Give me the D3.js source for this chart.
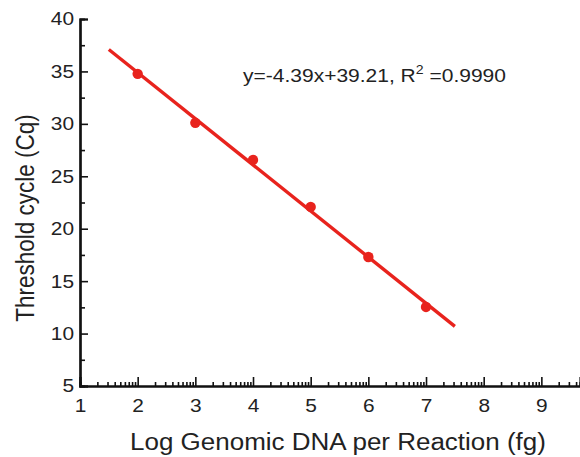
<!DOCTYPE html>
<html><head><meta charset="utf-8">
<script src="https://cdn.jsdelivr.net/npm/d3@7"></script>
<style>body{margin:0;background:#fff}svg{display:block}text{font-family:"Liberation Sans",Arial,sans-serif;fill:#222}</style>
</head><body><svg id="c" width="580" height="457"></svg>
<script>
const logDNA = [2, 3, 4, 5, 6, 7];
const cq = [34.77, 30.1, 26.56, 22.08, 17.3, 12.54];
const fitRange = [1.5, 7.5];
const xTicks = [1, 2, 3, 4, 5, 6, 7, 8, 9];
const yTicks = [5, 10, 15, 20, 25, 30, 35, 40];
const equation = "y=-4.39x+39.21, R";
const r2 = "=0.9990";

const svg = d3.select("#c");
const x = d3.scaleLinear().domain([1, 9.67]).range([80, 580]);
const y = d3.scaleLinear().domain([5, 40]).range([386, 19]);
const red = "#e8231d";
const sx = 1.13; // horizontal stretch of the reference lettering

const xMinor = [];
for (let d = 1; d < 10; d++) for (let k = 2; k <= 9; k++) { const v = d + Math.log10(k); if (v <= 9.67) xMinor.push(v); }
const yMinor = d3.range(7.5, 40, 5);

const ax = svg.append("g").attr("transform", `translate(0,${y(5)})`)
  .call(d3.axisBottom(x).tickValues(xTicks).tickSize(-9).tickPadding(12).tickFormat(d3.format("d")));
svg.append("g").attr("transform", `translate(0,${y(5)})`)
  .call(d3.axisBottom(x).tickValues(xMinor).tickSize(-4).tickFormat(""));
const ay = svg.append("g").attr("transform", `translate(${x(1)},0)`)
  .call(d3.axisLeft(y).tickValues(yTicks).tickSize(-8).tickPadding(7).tickFormat(d3.format("d")));
svg.append("g").attr("transform", `translate(${x(1)},0)`)
  .call(d3.axisLeft(y).tickValues(yMinor).tickSize(-5).tickFormat(""));
svg.selectAll(".domain").attr("stroke", "#111").attr("stroke-width", 2.2);
svg.selectAll(".tick line").attr("stroke", "#111").attr("stroke-width", 1.6);
svg.selectAll(".tick text").attr("font-size", 18.5).style("fill", "#222").attr("transform", `scale(${sx},1)`);
ax.selectAll(".tick text").attr("dy", "0.75em");
ay.selectAll(".tick text").attr("x", -6 / sx);

// regression line
const mx = d3.mean(logDNA), my = d3.mean(cq);
const b = d3.sum(logDNA.map((v, i) => (v - mx) * (cq[i] - my))) / d3.sum(logDNA.map(v => (v - mx) ** 2));
const a = my - b * mx;
svg.append("line")
  .attr("x1", x(fitRange[0])).attr("y1", y(a + b * fitRange[0]))
  .attr("x2", x(fitRange[1])).attr("y2", y(a + b * fitRange[1]))
  .attr("stroke", red).attr("stroke-width", 3.4);
svg.selectAll("circle.p").data(logDNA).join("circle")
  .attr("cx", d => x(d)).attr("cy", (d, i) => y(cq[i])).attr("r", 5.2).attr("fill", red);

// equation
const eq = svg.append("g").attr("transform", `translate(243,82) scale(${sx},1)`)
  .append("text").attr("font-size", 18.6);
eq.append("tspan").text(equation);
eq.append("tspan").attr("font-size", 12.5).attr("dy", -8).text("2");
eq.append("tspan").attr("dy", 8).text(" " + r2);

// axis titles
svg.append("g").attr("transform", `translate(338,450) scale(${sx},1)`)
  .append("text").attr("text-anchor", "middle").attr("font-size", 23)
  .text("Log Genomic DNA per Reaction (fg)");
svg.append("g").attr("transform", `translate(34,218) scale(${sx},1) rotate(-90)`)
  .append("text").attr("text-anchor", "middle").attr("font-size", 22.5)
  .text("Threshold cycle (Cq)");
</script></body></html>
